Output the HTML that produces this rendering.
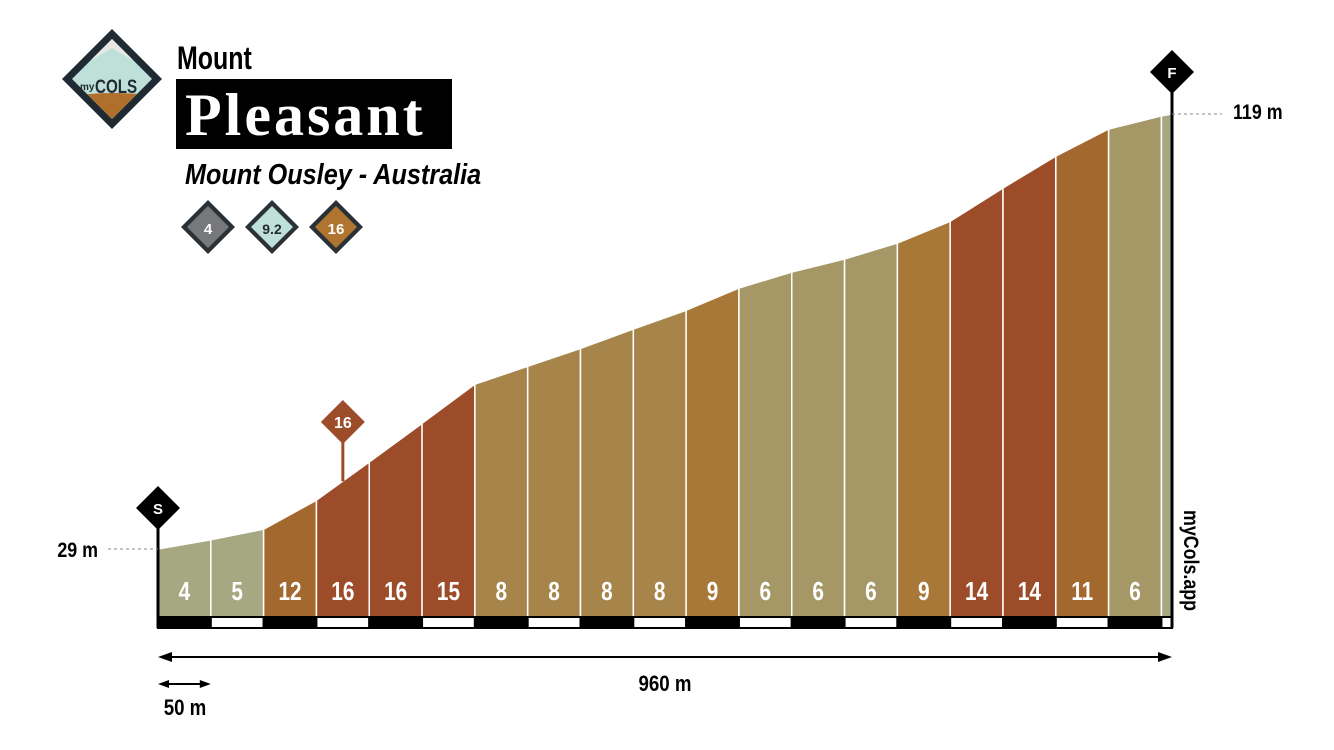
<!DOCTYPE html>
<html><head><meta charset="utf-8"><style>
html,body{margin:0;padding:0;background:#fff;width:1334px;height:750px;overflow:hidden}
svg{display:block}
text{font-family:"Liberation Sans",sans-serif;font-weight:bold}
</style></head><body>
<svg id="c" width="1334" height="750" viewBox="0 0 1334 750">
  <defs><clipPath id="lc"><polygon points="112,39 152,79 112,119 72,79"/></clipPath></defs>
  <g>
    <polygon points="112,29 162,79 112,129 62,79" fill="#1f2a33"/>
    <g clip-path="url(#lc)">
      <rect x="60" y="30" width="110" height="100" fill="#bfe0d8"/>
      <polygon points="60,30 170,30 170,62 150,52 132,60 112,48 92,60 72,52 60,62" fill="#e6e6e6"/>
      <path d="M60 98 Q112 88 170 98 L170 130 L60 130 Z" fill="#b06f2c"/>
    </g>
    <text x="80" y="90" font-size="10" fill="#1f2a33">my</text>
    <text x="95" y="93" font-size="19" fill="#1f2a33" transform="translate(95 0) scale(0.8 1) translate(-95 0)">COLS</text>
  </g>
  <text x="177" y="69" font-size="32" fill="#000" transform="translate(177 0) scale(0.78 1) translate(-177 0)">Mount</text>
  <rect x="176" y="79" width="276" height="70" fill="#000"/>
  <text x="185" y="135" font-size="60" fill="#fff" letter-spacing="3" style="font-family:'Liberation Serif',serif;font-weight:bold">Pleasant</text>
  <text x="185" y="184" font-size="29" font-style="italic" fill="#000" transform="translate(185 0) scale(0.87 1) translate(-185 0)">Mount Ousley - Australia</text>
  <g>
    <polygon points="208,200 235,227 208,254 181,227" fill="#2a3238"/>
    <polygon points="208,206 229,227 208,248 187,227" fill="#77787a"/>
    <text x="208" y="234" font-size="15" fill="#fff" text-anchor="middle" font-weight="normal">4</text>
    <polygon points="272,200 299,227 272,254 245,227" fill="#2a3238"/>
    <polygon points="272,206 293,227 272,248 251,227" fill="#bfe0d8"/>
    <text x="272" y="234" font-size="14" fill="#1f2a33" text-anchor="middle" font-weight="normal">9.2</text>
    <polygon points="336,200 363,227 336,254 309,227" fill="#2a3238"/>
    <polygon points="336,206 357,227 336,248 315,227" fill="#b07431"/>
    <text x="336" y="234" font-size="15" fill="#fff" text-anchor="middle" font-weight="normal">16</text>
  </g>
  <g id="plot"></g>
</svg>
<script>
const distances = [0,50,100,150,200,250,300,350,400,450,500,550,600,650,700,750,800,850,900,950,960];
const elevations = [29,30.9,33.1,39.1,47.0,55.0,63.1,66.8,70.5,74.5,78.4,83.0,86.3,89.0,92.3,96.8,103.7,110.3,115.9,118.6,119];
const gradients = [4,5,12,16,16,15,8,8,8,8,9,6,6,6,9,14,14,11,6,4];
const gradientLabels = ["4","5","12","16","16","15","8","8","8","8","9","6","6","6","9","14","14","11","6",""];
const totalDistance = 960;
const maxGradient = 16;
const maxGradientAt = 175;
const maxGradientElevation = 43;

const X0=158,X1=1172,BASE=617;
const x=d=>X0+(d/totalDistance)*(X1-X0);
const y=e=>549-(e-29)*(549-114)/(119-29);
function col(g){ if(g<=5) return '#a6a882'; if(g<=7) return '#a59866'; if(g<=8) return '#a6844a'; if(g<=10) return '#a77838'; if(g<=12) return '#a3682e'; return '#9d4c2a';}
const NS='http://www.w3.org/2000/svg';
const plot=document.getElementById('plot');
function mk(t,a,parent){const e=document.createElementNS(NS,t);for(const k in a)e.setAttribute(k,a[k]);(parent||plot).appendChild(e);return e;}

for(let i=0;i<gradients.length;i++){
  const xa=x(distances[i]),xb=x(distances[i+1]);
  const p=mk('polygon',{points:`${xa},${BASE} ${xa},${y(elevations[i])} ${xb},${y(elevations[i+1])} ${xb},${BASE}`,fill:col(gradients[i]),stroke:'#fff','stroke-width':1.5});
  
  
  if(gradientLabels[i]){
    const cx=(xa+xb)/2;
    const t=mk('text',{x:cx,y:600,'font-size':26,fill:'#fff','text-anchor':'middle',transform:`translate(${cx} 0) scale(0.8 1) translate(${-cx} 0)`});
    t.textContent=gradientLabels[i];
    
    
  }
}
for(let i=0;i<gradients.length;i++){
  const xa=x(distances[i]),xb=x(distances[i+1]);
  const r=mk('rect',{x:xa,y:617,width:xb-xa,height:11,fill:i%2?'#fff':'#000',stroke:'#000','stroke-width':2});
  
  
}
let l=mk('line',{x1:X0,y1:510,x2:X0,y2:628,stroke:'#000','stroke-width':3});

l=mk('line',{x1:X1,y1:75,x2:X1,y2:628,stroke:'#000','stroke-width':3});

function marker(cx,cy,label,fill,name,fs){
  const g=mk('g',{});
  
  
  mk('polygon',{points:`${cx},${cy-22} ${cx+22},${cy} ${cx},${cy+22} ${cx-22},${cy}`,fill:fill},g);
  const t=mk('text',{x:cx,y:cy+6,'font-size':fs,fill:'#fff','text-anchor':'middle'},g);t.textContent=label;
}
l=mk('line',{x1:x(maxGradientAt),y1:430,x2:x(maxGradientAt),y2:y(maxGradientElevation),stroke:'#9d4c2a','stroke-width':3});

marker(x(maxGradientAt),422,String(maxGradient),'#9d4c2a','max-gradient-marker',16);
marker(X0,508,'S','#000','start-marker',15);
marker(X1,72,'F','#000','finish-marker',15);
l=mk('line',{x1:108,y1:549,x2:X0,y2:549,stroke:'#888','stroke-dasharray':'3 3'});

l=mk('line',{x1:X1,y1:114,x2:1222,y2:114,stroke:'#888','stroke-dasharray':'3 3'});

let t=mk('text',{x:98,y:557,'font-size':21,fill:'#000','text-anchor':'end',transform:'translate(98 0) scale(0.85 1) translate(-98 0)'});t.textContent=elevations[0]+' m';

t=mk('text',{x:1233,y:119,'font-size':21,fill:'#000',transform:'translate(1233 0) scale(0.85 1) translate(-1233 0)'});t.textContent=elevations[elevations.length-1]+' m';

t=mk('text',{x:0,y:0,'font-size':21,fill:'#000',transform:'translate(1184 510) rotate(90) scale(0.85 1)'});t.textContent='myCols.app';

const g=mk('g',{});
mk('line',{x1:X0+6,y1:657,x2:X1-6,y2:657,stroke:'#000','stroke-width':2},g);
mk('polygon',{points:`${X0},657 ${X0+14},652 ${X0+14},662`,fill:'#000'},g);
mk('polygon',{points:`${X1},657 ${X1-14},652 ${X1-14},662`,fill:'#000'},g);
t=mk('text',{x:665,y:691,'font-size':22,fill:'#000','text-anchor':'middle',transform:'translate(665 0) scale(0.85 1) translate(-665 0)'});t.textContent=totalDistance+' m';

const g2=mk('g',{});
mk('line',{x1:X0+5,y1:684,x2:x(50)-5,y2:684,stroke:'#000','stroke-width':2},g2);
mk('polygon',{points:`${X0},684 ${X0+11},680 ${X0+11},688`,fill:'#000'},g2);
mk('polygon',{points:`${x(50)},684 ${x(50)-11},680 ${x(50)-11},688`,fill:'#000'},g2);
t=mk('text',{x:185,y:715,'font-size':22,fill:'#000','text-anchor':'middle',transform:'translate(185 0) scale(0.85 1) translate(-185 0)'});t.textContent='50 m';

</script>
</body></html>
